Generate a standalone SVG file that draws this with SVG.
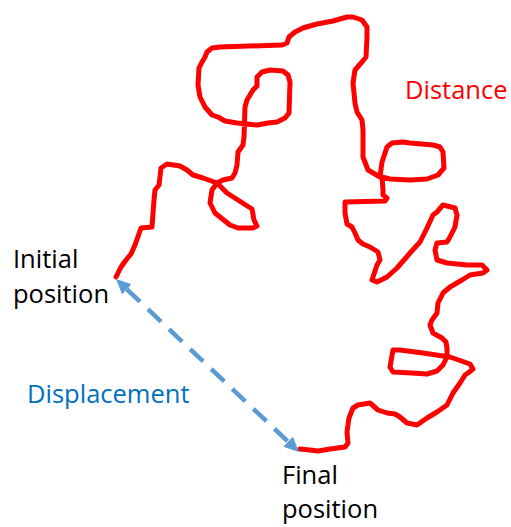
<svg xmlns="http://www.w3.org/2000/svg" width="511" height="527" viewBox="0 0 511 527">
  <defs>
    <style>
      .lbl { font-family: "Open Sans", "Liberation Sans", sans-serif; font-size: 25.5px; }
      .black { fill: #000000; }
      .red { fill: #FF0000; }
      .blue { fill: #0070C0; }
      .path { fill: none; stroke: #FF0000; stroke-width: 5; stroke-linejoin: round; stroke-linecap: round; }
      .disp { fill: none; stroke: #5B9BD5; stroke-width: 4.5; stroke-dasharray: 18 11; }
    </style>
    <marker id="ah" markerUnits="userSpaceOnUse" markerWidth="16" markerHeight="14" refX="0" refY="7" orient="auto-start-reverse" viewBox="0 0 16 14">
      <path d="M0,0 L15,7 L0,14 z" fill="#5B9BD5"/>
    </marker>
  </defs>
  <g id="connectors">
    <polyline id="distance-path" class="path" points="116,277 121,267 126,260 131,254 135,245 141,228 152,227 154,200 155,190 159,185 160,177 161,168 167,164 180,166 187,170 193,175 203,178 217,183 227,193 252,209 254,220 257,226 253,228 238,228 230,225 215,213 210,203 212,190 217,183 223,180 232,178 235,173 237,165 238,152 243,145 244,137 245,107 247,100 253,90 257,86 257,77 262,72 270,70 283,71 288,75 290,82 289,113 285,118 277,122 268,123 257,125 247,124 237,123 225,121 218,117 212,115 205,107 200,97 198,85 199,68 202,62 205,57 207,52 212,48 220,47 282,45 287,43 289,37 295,32 303,28 317,24 333,21 347,17 353,17 362,20 367,27 367,37 366,57 362,62 355,70 353,83 355,103 357,112 362,120 363,130 363,157 368,170 380,177 382,162 387,147 392,143 403,142 410,143 433,145 440,147 443,152 444,168 438,175 427,179 410,180 390,179 382,177 383,190 383,195 387,198 385,201 345,202 345,213 347,224 352,227 355,233 358,240 363,244 370,247 378,252 380,260 377,265 373,277 372,280 377,282 387,277 397,268 410,253 420,242 427,228 433,215 437,212 443,205 455,208 457,215 455,227 450,237 447,242 437,243 435,250 437,260 447,263 467,265 482,265 487,270 483,273 470,275 462,280 450,287 443,293 438,303 437,313 432,320 430,325 433,333 442,338 446,342 447,348 447,357 443,365 437,371 427,374 412,373 393,372 390,367 393,350 400,350 423,353 443,356 450,357 470,364 473,369 468,373 465,375 460,383 453,393 447,405 437,412 427,418 417,425 407,423 400,417 395,414 387,413 378,410 370,403 358,405 353,408 349,418 347,432 348,443 345,447 330,449 318,451 310,450 300,449"/>
    <line id="displacement-arrow" class="disp" x1="126.9" y1="289.3" x2="288.1" y2="441.7" marker-start="url(#ah)" marker-end="url(#ah)"/>
  </g>
  <g id="label-distance">
    <text class="lbl red" x="405" y="99">Distance</text>
  </g>
  <g id="label-initial">
    <text class="lbl black" x="13" y="268">Initial</text>
    <text class="lbl black" x="13" y="303">position</text>
  </g>
  <g id="label-final">
    <text class="lbl black" x="282" y="484">Final</text>
    <text class="lbl black" x="282" y="518">position</text>
  </g>
  <g id="label-displacement">
    <text class="lbl blue" x="27" y="403">Displacement</text>
  </g>
</svg>
